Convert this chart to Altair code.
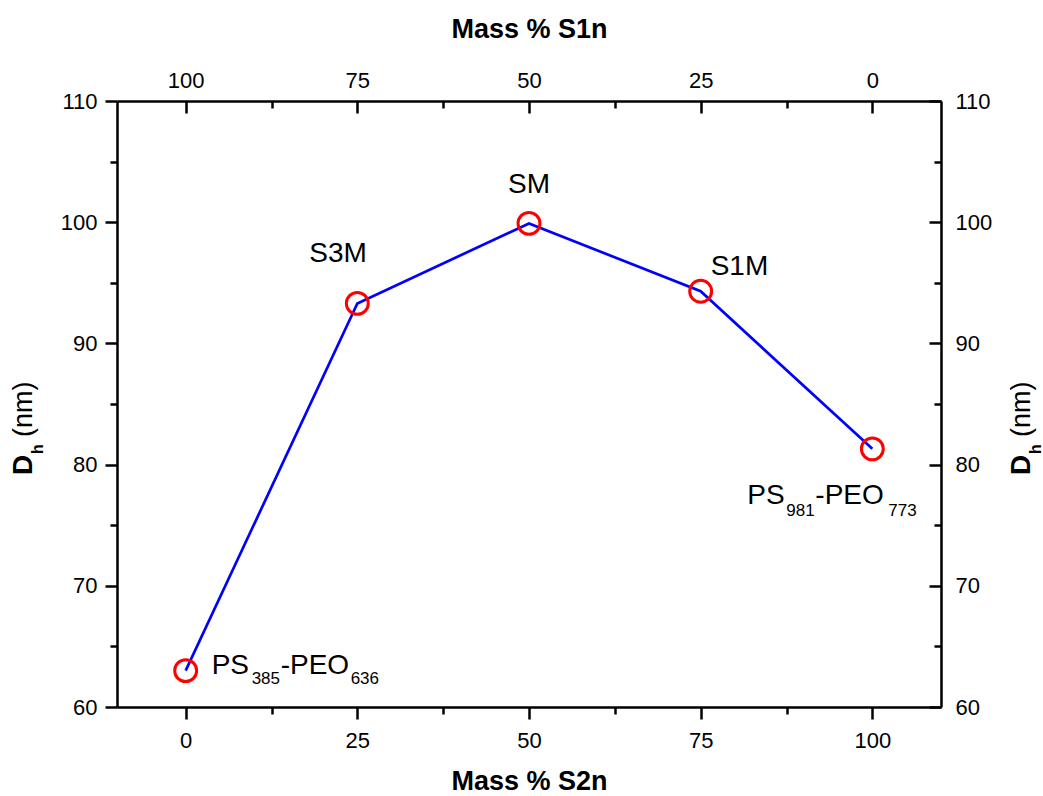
import altair as alt
import pandas as pd

# ---- data ----
mass_s2n = [0, 25, 50, 75, 100]
dh_nm = [63.0, 93.3, 99.9, 94.3, 81.3]
names = ["PS385-PEO636", "S3M", "SM", "S1M", "PS981-PEO773"]

x_major = [0, 25, 50, 75, 100]
x_minor = [12.5, 37.5, 62.5, 87.5]
y_major = [60, 70, 80, 90, 100, 110]
y_minor = [65, 75, 85, 95, 105]

df = pd.DataFrame({"s2n": mass_s2n, "dh": dh_nm, "name": names})

FONT = "Liberation Sans"
W, H = 824, 606
xs = alt.Scale(domain=[-10, 110], nice=False, zero=False)
ys = alt.Scale(domain=[60, 110], nice=False, zero=False)
xs_top = alt.Scale(domain=[-10, 110], nice=False, zero=False, reverse=True)

common = dict(
    grid=False, domainColor="black", domainWidth=2.5, tickColor="black",
    tickWidth=2.5, labelFont=FONT, labelFontSize=22, labelColor="black",
    labelOverlap=False, labelFlush=False, titleFont=FONT, titleFontSize=27,
    titleFontWeight="bold", titleColor="black",
)

def tsize(test, major, minor):
    return {"condition": {"test": test, "value": major}, "value": minor}

x_vals = sorted(x_major + x_minor)
y_vals = sorted(y_major + y_minor)
x_lab = "datum.value % 25 === 0 ? datum.label : ''"
y_lab = "datum.value % 10 === 0 ? datum.label : ''"
x_test = "datum.value % 25 === 0"
y_test = "datum.value % 10 === 0"

bottom_axis = alt.Axis(orient="bottom", values=x_vals, labelExpr=x_lab,
                       tickSize=tsize(x_test, 12, 7), labelBaseline="alphabetic",
                       labelPadding=28, title="Mass % S2n", titleBaseline="alphabetic",
                       titleY=82, **common)
left_axis = alt.Axis(orient="left", values=y_vals, labelExpr=y_lab,
                     tickSize=tsize(y_test, 12, 7), labelPadding=8, title=None, **common)
top_axis = alt.Axis(orient="top", values=x_vals, labelExpr=x_lab,
                    tickSize=tsize(x_test, -12, -7), labelBaseline="alphabetic",
                    labelPadding=26, title="Mass % S1n", titleBaseline="alphabetic",
                    titleY=-64, **common)
right_axis = alt.Axis(orient="right", values=y_vals, labelExpr=y_lab,
                      tickSize=tsize(y_test, -12, -7), labelPadding=26, title=None, **common)

base = alt.Chart(df)
X = alt.X("s2n:Q", scale=xs, axis=None)
Y = alt.Y("dh:Q", scale=ys, axis=None)

line = base.mark_line(color="#0000FF", strokeWidth=2.7).encode(
    x=alt.X("s2n:Q", scale=xs, axis=bottom_axis),
    y=alt.Y("dh:Q", scale=ys, axis=left_axis),
)
points = base.mark_point(shape="circle", size=480, filled=False, color="#FF0000",
                         strokeWidth=3, opacity=1).encode(x=X, y=Y)

# label pieces: (text, dx, dy, fontsize) relative to each point
label_pieces = {
    "PS385-PEO636": [("PS", 26, 3, 28), ("385", 66, 13, 17), ("-PEO", 95, 3, 28), ("636", 165, 13, 17)],
    "S3M": [("S3M", -48, -41, 28)],
    "SM": [("SM", -21, -30, 28)],
    "S1M": [("S1M", 10, -16, 28)],
    "PS981-PEO773": [("PS", -125, 55, 28), ("981", -86, 67, 17), ("-PEO", -57, 55, 28), ("773", 16, 67, 17)],
}
texts = []
for nm, pieces in label_pieces.items():
    for t, dx, dy, fs in pieces:
        texts.append(
            base.transform_filter(alt.datum.name == nm).mark_text(
                text=t, dx=dx, dy=dy, fontSize=fs, font=FONT, align="left",
                baseline="alphabetic", color="black",
            ).encode(x=X, y=Y)
        )

# y-axis titles "D_h (nm)" on both sides
one = alt.Data(values=[{"k": 1}])
def ytitle(xpos):
    d = alt.Chart(one).mark_text(text="D", font=FONT, fontSize=28, fontWeight="bold",
                                 angle=270, align="left", baseline="alphabetic",
                                 color="black").encode(x=alt.value(xpos), y=alt.value(374))
    h = alt.Chart(one).mark_text(text="h", font=FONT, fontSize=16, fontWeight="bold",
                                 angle=270, align="left", baseline="alphabetic",
                                 color="black").encode(x=alt.value(xpos + 11), y=alt.value(353))
    nmt = alt.Chart(one).mark_text(text="(nm)", font=FONT, fontSize=27,
                                   angle=270, align="left", baseline="alphabetic",
                                   color="black").encode(x=alt.value(xpos), y=alt.value(336))
    return [d, h, nmt]

axes2 = base.transform_calculate(s1n="100 - datum.s2n").mark_point(opacity=0).encode(
    x=alt.X("s1n:Q", scale=xs_top, axis=top_axis),
    y=alt.Y("dh:Q", scale=ys, axis=right_axis),
)

chart = alt.layer(line, points, *texts, *ytitle(-85), *ytitle(913), axes2).resolve_scale(
    x="independent", y="independent"
).properties(
    width=W, height=H,
    autosize=alt.AutoSizeParams(type="none"),
    padding={"left": 117, "top": 101, "right": 102, "bottom": 89},
    background="white",
).configure_view(stroke="transparent")

chart.save("out.html", embed_options={"renderer": "svg", "actions": False})
